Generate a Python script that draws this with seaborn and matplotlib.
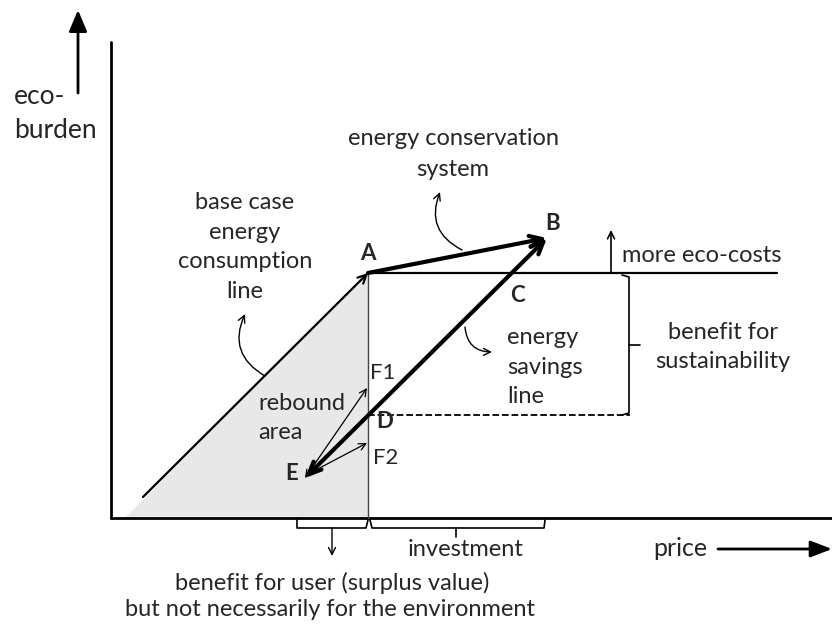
import matplotlib
matplotlib.use("Agg")
import matplotlib.pyplot as plt
import seaborn as sns
from matplotlib.patches import Polygon

sns.set_style("white")
plt.rcParams["font.family"] = ["Lato", "DejaVu Sans"]

# Diagram points (pixel-like coordinates, y down)
point_names = ["A", "B", "C", "D", "E"]
A = (368, 273)
B = (547, 238)
D = (368, 415)
E = (305, 478)
base_start = (143, 497)
rebound_fill = [(125, 518), (368, 273), (368, 518)]
cost_line_x = [368, 777]
dashed_x = [368, 630]
axis_y = [42, 518]
axis_x = [111, 832]

label_pos = {"A": (368, 254), "B": (553, 224), "C": (517, 295),
             "D": (385, 421), "E": (292, 474)}

FS = 17

fig = plt.figure(figsize=(8.32, 6.24), dpi=100)
ax = fig.add_axes([0, 0, 1, 1])
ax.set_xlim(0, 832)
ax.set_ylim(624, 0)
ax.axis("off")


def line(xs, ys, **kw):
    kw.setdefault("color", "black")
    sns.lineplot(x=xs, y=ys, ax=ax, sort=False, estimator=None, **kw)


def arrow(p0, p1, style="->", lw=1.0, rad=0.0, color="black"):
    ax.annotate("", xy=p1, xytext=p0,
                arrowprops=dict(arrowstyle=style, lw=lw, color=color,
                                shrinkA=0, shrinkB=0,
                                connectionstyle=f"arc3,rad={rad}"))


# rebound area
ax.add_patch(Polygon(rebound_fill, closed=True, facecolor="#e8e8e8", edgecolor="none"))

# axes
line([axis_x[0], axis_x[0]], axis_y, lw=2)
line(axis_x, [axis_y[1], axis_y[1]], lw=2)
arrow((78, 93), (78, 10), style="-|>,head_length=1.3,head_width=0.55", lw=2)
arrow((718, 549), (832, 549), style="-|>,head_length=1.3,head_width=0.5", lw=2)

# lines
line(cost_line_x, [A[1], A[1]], lw=1.6)
line([A[0], A[0]], [A[1], 518], lw=1.0, color="#444444")
line(dashed_x, [D[1], D[1]], lw=1.3, linestyle="--")
arrow(base_start, A, style="->,head_length=0.6,head_width=0.3", lw=1.6)
arrow(A, B, style="->,head_length=0.9,head_width=0.4", lw=3)
arrow(E, B, style="<->,head_length=0.9,head_width=0.4", lw=3)

# thin rebound arrows
arrow(E, (367, 388), style="<->,head_length=0.5,head_width=0.25", lw=0.9)
arrow((312, 472), (367, 443), style="<->,head_length=0.5,head_width=0.25", lw=0.9)

# more eco-costs arrow
arrow((611, 273), (611, 230), style="->,head_length=0.5,head_width=0.25", lw=1.2)

# curved pointer arrows
arrow((462, 250), (440, 192), style="->,head_length=0.5,head_width=0.25", lw=1.0, rad=-0.45)
arrow((265, 376), (245, 314), style="->,head_length=0.5,head_width=0.25", lw=1.0, rad=-0.45)
arrow((465, 327), (492, 352), style="->,head_length=0.5,head_width=0.25", lw=1.0, rad=0.45)

# right bracket
line([622, 629, 629, 622], [275, 277, 413, 415], lw=1.2)
line([629, 640], [345, 345], lw=1.2)

# bottom brackets
line([297, 297, 366, 368], [520, 528, 528, 520], lw=1.2)
line([370, 372, 544, 545], [520, 528, 528, 520], lw=1.2)
line([456, 456], [528, 537], lw=1.2)
arrow((332, 528), (332, 556), style="->,head_length=0.5,head_width=0.25", lw=1.0)

# point labels
for name in point_names:
    x, y = label_pos[name]
    ax.text(x, y, name, fontsize=16, fontweight="bold", ha="center", va="center")

# text annotations
ax.text(14, 97, "eco-", fontsize=19, ha="left", va="center")
ax.text(14, 130, "burden", fontsize=19, ha="left", va="center")
ax.text(453, 154, "energy conservation\nsystem", fontsize=FS, ha="center", va="center",
        linespacing=1.55)
ax.text(245, 247, "base case\nenergy\nconsumption\nline", fontsize=FS, ha="center",
        va="center", linespacing=1.5)
ax.text(507, 367, "energy\nsavings\nline", fontsize=FS, ha="left", va="center",
        linespacing=1.5)
ax.text(723, 347, "benefit for\nsustainability", fontsize=FS, ha="center", va="center",
        linespacing=1.5)
ax.text(622, 255, "more eco-costs", fontsize=FS, ha="left", va="center")
ax.text(258, 418, "rebound\narea", fontsize=FS, ha="left", va="center", linespacing=1.5)
ax.text(370, 373, "F1", fontsize=16, ha="left", va="center")
ax.text(373, 458, "F2", fontsize=16, ha="left", va="center")
ax.text(466, 549, "investment", fontsize=FS, ha="center", va="center")
ax.text(680, 549, "price", fontsize=18, ha="center", va="center")
ax.text(332, 583, "benefit for user (surplus value)", fontsize=FS, ha="center", va="center")
ax.text(330, 610, "but not necessarily for the environment", fontsize=FS, ha="center",
        va="center")

fig.savefig("out.png", dpi=100)
